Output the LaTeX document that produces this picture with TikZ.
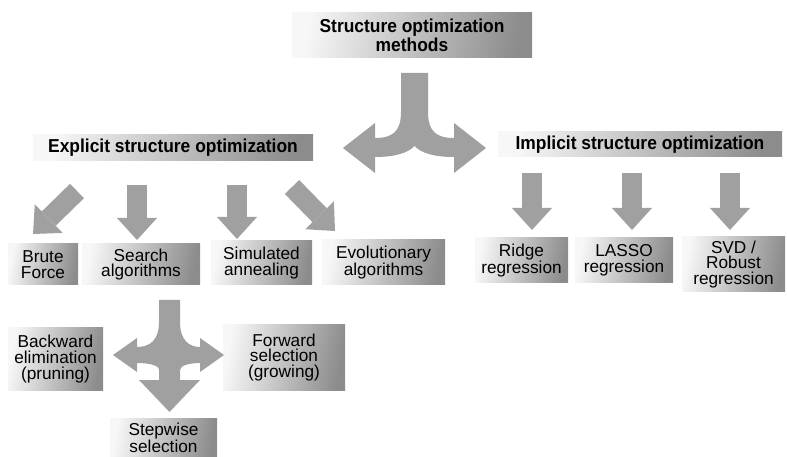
\documentclass[tikz,border=0pt]{standalone}
\usepackage{fontspec}
\setmainfont{Liberation Sans}
\newfontfamily\headfont[FakeStretch=0.93]{Liberation Sans Bold}
\usetikzlibrary{arrows.meta}
\definecolor{arrowgray}{RGB}{160,160,160}
\tikzset{
  gbox/.style={inner sep=0pt, align=center, left color=black!3, right color=black!45, shading angle=80},
  hbox/.style={gbox, font=\headfont\fontsize{18.8}{15.5}\selectfont},
  tbox/.style={gbox, font=\fontsize{17.3}{15.8}\selectfont},
  fat/.style={draw=arrowgray, line width=20bp, line cap=butt,
    -{Triangle[width=40bp, length=22bp, line width=0pt]}},
  splitfill/.style={fill=arrowgray, draw=none}
}
\begin{document}
\begin{tikzpicture}[x=1bp, y=-1bp]
\useasboundingbox (0,0) rectangle (787,457);

% boxes
\node[hbox, minimum width=240bp, minimum height=45bp] (top) at (412,35.5) {Structure optimization\\methods};
\node[hbox, minimum width=280bp, minimum height=26bp] (expl) at (173,148) {Explicit structure optimization};
\node[hbox, minimum width=284bp, minimum height=25bp] (impl) at (640,144.5) {Implicit structure optimization};

\node[tbox, minimum width=70bp, minimum height=41bp] (brute) at (43,264.5) {Brute\\Force};
\node[tbox, minimum width=118bp, minimum height=41bp] (search) at (141,264.5) {Search\\algorithms};
\node[tbox, minimum width=101bp, minimum height=44bp] (sim) at (261.5,263) {Simulated\\annealing};
\node[tbox, minimum width=123bp, minimum height=45bp] (evo) at (383.5,262.5) {Evolutionary\\algorithms};

\node[tbox, minimum width=93bp, minimum height=45bp] (ridge) at (521.5,260.5) {Ridge\\regression};
\node[tbox, minimum width=98bp, minimum height=45bp] (lasso) at (624,260.5) {LASSO\\regression};
\node[tbox, minimum width=103bp, minimum height=55bp] (svd) at (733.5,264.5) {SVD /\\Robust\\regression};

\node[tbox, minimum width=95bp, minimum height=62bp] (back) at (55.5,359) {Backward\\elimination\\(pruning)};
\node[tbox, minimum width=122bp, minimum height=65bp] (fwd) at (284,357.5) {Forward\\selection\\(growing)};
\node[tbox, minimum width=107bp, minimum height=40bp] (step) at (163.5,438) {Stepwise\\selection};

% top split arrow
\fill[splitfill] (401,73) -- (401,112) .. controls (401,132) and (392,138) .. (375,138)
  -- (375,123) -- (343,148) -- (375,173) -- (375,157)
  .. controls (395,157) and (408,153) .. (414.5,146)
  .. controls (421,153) and (434,157) .. (454,157)
  -- (454,173) -- (486,148) -- (454,123) -- (454,138)
  .. controls (437,138) and (428,132) .. (428,112) -- (428,73) -- cycle;

% bottom split arrow
\fill[splitfill] (159,300) -- (159,322) .. controls (159,340) and (150,347) .. (137,347)
  -- (137,338) -- (113,355) -- (137,372) -- (137,363)
  .. controls (148,363) and (159,365) .. (159,370) -- (159,380)
  -- (139,380) -- (169.5,412) -- (200,380) -- (180,380) -- (180,370)
  .. controls (180,365) and (191,363) .. (200,363)
  -- (200,372) -- (224,355) -- (200,338) -- (200,347)
  .. controls (189,347) and (180,340) .. (180,322) -- (180,300) -- cycle;

% straight block arrows
\coordinate (a1s) at (77,191);  \coordinate (a1t) at (33,234);
\coordinate (a2s) at (137,185); \coordinate (a2t) at (137,240);
\coordinate (a3s) at (237,185); \coordinate (a3t) at (237,239);
\coordinate (a4s) at (292,187); \coordinate (a4t) at (335,231);
\coordinate (a5s) at (532,173); \coordinate (a5t) at (532,230);
\coordinate (a6s) at (632,173); \coordinate (a6t) at (632,230);
\coordinate (a7s) at (730,173); \coordinate (a7t) at (730,230);
\foreach \i in {1,...,7} { \draw[fat] (a\i s) -- (a\i t); }
\end{tikzpicture}
\end{document}
